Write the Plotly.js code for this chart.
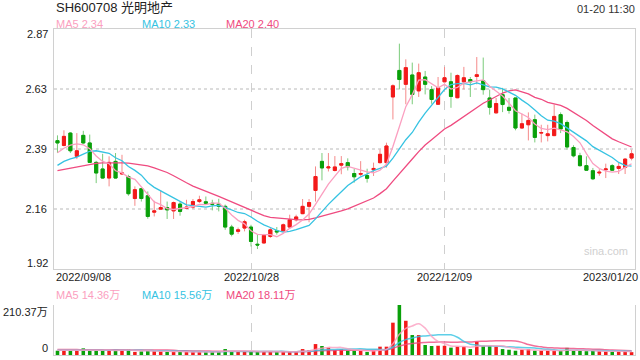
<!DOCTYPE html>
<html><head><meta charset="utf-8">
<script src="https://cdn.plot.ly/plotly-3.0.1.min.js"></script>
<style>html,body{margin:0;padding:0;background:#fff}#chart{width:640px;height:360px}</style>
</head><body><div id="chart"></div>
<script>
// ---- data ----
const dates = ["2022/09/08","2022/10/28","2022/12/09","2023/01/20"];
const dateIdx = [0, 30, 60, 89];
const opens  = [2.428,2.409,2.458,2.366,2.449,2.419,2.342,2.316,2.280,2.346,2.296,2.286,2.199,2.238,2.210,2.145,2.157,2.163,2.150,2.177,2.160,2.165,2.187,2.186,2.180,2.177,2.168,2.086,2.069,2.082,2.086,2.018,2.023,2.049,2.071,2.071,2.086,2.115,2.139,2.168,2.231,2.346,2.320,2.310,2.331,2.341,2.298,2.295,2.290,2.313,2.341,2.341,2.601,2.706,2.651,2.688,2.625,2.680,2.630,2.572,2.661,2.661,2.598,2.661,2.670,2.682,2.665,2.597,2.538,2.610,2.560,2.597,2.478,2.491,2.511,2.458,2.448,2.448,2.531,2.500,2.401,2.368,2.329,2.309,2.300,2.313,2.329,2.318,2.322,2.359];
const highs  = [2.449,2.469,2.462,2.458,2.467,2.452,2.348,2.376,2.366,2.379,2.372,2.293,2.247,2.240,2.227,2.190,2.231,2.187,2.187,2.187,2.194,2.197,2.210,2.207,2.194,2.198,2.175,2.095,2.084,2.115,2.095,2.056,2.059,2.086,2.086,2.100,2.135,2.135,2.197,2.197,2.326,2.379,2.379,2.367,2.367,2.358,2.317,2.347,2.317,2.341,2.393,2.420,2.651,2.812,2.750,2.737,2.733,2.704,2.644,2.680,2.720,2.697,2.690,2.720,2.680,2.759,2.757,2.630,2.597,2.637,2.597,2.597,2.535,2.540,2.531,2.491,2.491,2.571,2.540,2.508,2.410,2.380,2.366,2.320,2.315,2.337,2.335,2.342,2.359,2.392];
const lows   = [2.379,2.405,2.379,2.355,2.415,2.340,2.260,2.278,2.247,2.278,2.293,2.210,2.170,2.187,2.119,2.128,2.155,2.118,2.118,2.131,2.158,2.158,2.181,2.178,2.152,2.148,2.075,2.049,2.059,2.069,2.009,1.999,2.021,2.043,2.056,2.069,2.084,2.108,2.137,2.105,2.187,2.271,2.306,2.306,2.295,2.310,2.262,2.288,2.262,2.288,2.337,2.321,2.512,2.631,2.572,2.572,2.601,2.611,2.574,2.570,2.659,2.558,2.596,2.631,2.601,2.651,2.610,2.531,2.536,2.541,2.535,2.469,2.476,2.429,2.421,2.421,2.425,2.446,2.458,2.392,2.362,2.325,2.309,2.272,2.289,2.280,2.309,2.296,2.296,2.350];
const closes = [2.419,2.445,2.388,2.388,2.419,2.342,2.300,2.280,2.342,2.280,2.300,2.218,2.234,2.199,2.128,2.150,2.163,2.154,2.183,2.148,2.165,2.187,2.194,2.180,2.176,2.168,2.086,2.058,2.075,2.107,2.029,2.015,2.053,2.075,2.067,2.095,2.115,2.126,2.168,2.183,2.286,2.320,2.324,2.324,2.337,2.325,2.285,2.298,2.279,2.318,2.374,2.407,2.645,2.670,2.717,2.611,2.697,2.651,2.591,2.638,2.677,2.603,2.686,2.677,2.661,2.689,2.630,2.560,2.575,2.571,2.548,2.478,2.495,2.508,2.441,2.460,2.455,2.524,2.474,2.403,2.368,2.329,2.311,2.277,2.303,2.316,2.311,2.326,2.355,2.376];
// volume, unit 万
const volumes = [18,18,18,18,28,18,18,20,20,20,20,24,13,15,18,16,16,13,13,13,13,13,13,13,13,13,25,15,15,15,13,13,15,15,13,13,13,14,25,20,46,38,31,21,24,18,18,18,13,18,35,35,136,210.37,144,84,84,42,38,39,39,31,35,35,25,56,39,39,35,25,22,18,22,25,18,18,18,18,18,30,17,17,16,17,16,15,14,15,16,12];
// moving-average values before enough bars exist in the window
const ma5Head  = [2.380,2.398,2.410,2.415];
const ma10Head = [2.330,2.346,2.356,2.363,2.375,2.386,2.388,2.384,2.378];
const ma20Head = [2.309,2.314,2.320,2.325,2.330,2.334,2.338,2.340,2.341,2.341,2.340,2.339,2.336,2.333,2.328,2.320,2.312,2.302,2.289];
const vma5Head  = [20,20,20,20];
const vma10Head = [20,20,20,20,20,20,20,20,20];
const vma20Head = [23,23,23,23,22,22,22,22,22,22,22,22,21,21,21,21,21,21,20];
const maLabels  = ["MA5 2.34","MA10 2.33","MA20 2.40"];
const vmaLabels = ["MA5 14.36万","MA10 15.56万","MA20 18.11万"];
const priceTicks = [1.92, 2.1575, 2.395, 2.6325, 2.87];
const priceTickText = ["1.92","2.16","2.39","2.63","2.87"];
const volTop = 210.37;
const volTopText = "210.37万";
const titleText = "SH600708 光明地产";
const timeText = "01-20 11:30";

// ---- derived ----
const idx = closes.map((_, i) => i);
function movAvg(arr, n, head) {
  return arr.map((v, i) => {
    if (i < n - 1) return head[i];
    let s = 0; for (let k = i - n + 1; k <= i; k++) s += arr[k];
    return s / n;
  });
}
const ma5 = movAvg(closes, 5, ma5Head), ma10 = movAvg(closes, 10, ma10Head), ma20 = movAvg(closes, 20, ma20Head);
const vma5 = movAvg(volumes, 5, vma5Head), vma10 = movAvg(volumes, 10, vma10Head), vma20 = movAvg(volumes, 20, vma20Head);
const bodyHigh = opens.map((o, i) => Math.max(o, closes[i]));
const bodyLow  = opens.map((o, i) => Math.min(o, closes[i]));

const RED = '#f31a1a', GREEN = '#0aa00a';
const RED_W = '#f58a8a', GREEN_W = '#7acb7a';
const C5 = '#fb9fc0', C10 = '#36c3e2', C20 = '#ef4b80';
const FONT = 'Liberation Sans, Arial, Noto Sans CJK SC, sans-serif';
const volColors = opens.map((o, i) => closes[i] >= o ? RED : GREEN);

const traces = [
  {type:'candlestick', x:idx, open:opens, high:highs, low:lows, close:closes, xaxis:'x', yaxis:'y',
   increasing:{line:{color:RED_W,width:1}, fillcolor:RED_W}, decreasing:{line:{color:GREEN_W,width:1}, fillcolor:GREEN_W},
   whiskerwidth:0, hoverinfo:'skip', showlegend:false},
  {type:'candlestick', x:idx, open:opens, high:bodyHigh, low:bodyLow, close:closes, xaxis:'x', yaxis:'y',
   increasing:{line:{color:RED,width:1}, fillcolor:RED}, decreasing:{line:{color:GREEN,width:1}, fillcolor:GREEN},
   whiskerwidth:0, hoverinfo:'skip', showlegend:false},
  {type:'scatter', mode:'lines', x:idx, y:ma20, line:{color:C20,width:1.3}, xaxis:'x', yaxis:'y', showlegend:false},
  {type:'scatter', mode:'lines', x:idx, y:ma10, line:{color:C10,width:1.3}, xaxis:'x', yaxis:'y', showlegend:false},
  {type:'scatter', mode:'lines', x:idx, y:ma5, line:{color:C5,width:1.3}, xaxis:'x', yaxis:'y', showlegend:false},
  {type:'bar', x:idx, y:volumes, marker:{color:volColors}, width:0.55, xaxis:'x2', yaxis:'y2', showlegend:false},
  {type:'scatter', mode:'lines', x:idx, y:vma20, line:{color:C20,width:1.5,shape:'spline'}, opacity:0.8, xaxis:'x2', yaxis:'y2', showlegend:false},
  {type:'scatter', mode:'lines', x:idx, y:vma10, line:{color:C10,width:1.5,shape:'spline'}, opacity:0.8, xaxis:'x2', yaxis:'y2', showlegend:false},
  {type:'scatter', mode:'lines', x:idx, y:vma5, line:{color:C5,width:1.5,shape:'spline'}, opacity:0.8, xaxis:'x2', yaxis:'y2', showlegend:false}
];

const xr = [-0.54, 89.53];
const PX = 581, PH = 326; // plot area size in px (l=54, t=29)
const px2x = p => (p - 54) / PX;
const px2y = p => 1 - (p - 29) / PH;

const ann = [];
const txt = (text, x, y, xanchor, color, size, extra) => ann.push(Object.assign({text, x, y, xref:'paper', yref:'paper', xanchor, yanchor:'middle', showarrow:false, font:{family:FONT, size, color}}, extra||{}));
txt(titleText, px2x(54), px2y(8), 'left', '#222', 13);
txt(timeText, px2x(637), px2y(9), 'right', '#333', 11);
const legX = [54, 140, 224];
[C5, C10, C20].forEach((c, k) => {
  txt(maLabels[k], px2x(legX[k]), px2y(24), 'left', c, 11);
  txt(vmaLabels[k], px2x(legX[k]), px2y(295), 'left', c, 11);
});
// date labels
dates.forEach((d, k) => {
  const a = {text:d, y:px2y(277), yref:'paper', yanchor:'middle', showarrow:false, font:{family:FONT, size:11, color:'#222'}};
  if (k === 0) { a.xref = 'paper'; a.x = px2x(54); a.xanchor = 'left'; }
  else if (k === dates.length - 1) { a.xref = 'paper'; a.x = px2x(640); a.xanchor = 'right'; }
  else { a.xref = 'x'; a.x = dateIdx[k]; a.xanchor = 'center'; }
  ann.push(a);
});
// top/bottom price labels (drawn inside the frame like the original)
ann.push({text:priceTickText[4], xref:'paper', x:px2x(50), xanchor:'right', yref:'y', y:priceTicks[4], yshift:-5, yanchor:'middle', showarrow:false, font:{family:FONT,size:11,color:'#222'}});
ann.push({text:priceTickText[0], xref:'paper', x:px2x(50), xanchor:'right', yref:'y', y:priceTicks[0], yshift:6, yanchor:'middle', showarrow:false, font:{family:FONT,size:11,color:'#222'}});
ann.push({text:volTopText, xref:'paper', x:px2x(50), xanchor:'right', yref:'y2', y:volTop, yshift:-7, yanchor:'middle', showarrow:false, font:{family:FONT,size:11,color:'#222'}});
ann.push({text:'0', xref:'paper', x:px2x(50), xanchor:'right', yref:'y2', y:0, yshift:7, yanchor:'middle', showarrow:false, font:{family:FONT,size:11,color:'#222'}});
txt('sina.com', px2x(606), px2y(251), 'center', '#d0d0d0', 11);

const layout = {
  width:640, height:360, margin:{l:54, r:5, t:29, b:5, pad:0},
  paper_bgcolor:'#fff', plot_bgcolor:'#fff', showlegend:false,
  font:{family:FONT, size:11, color:'#222'},
  xaxis:{domain:[0,1], range:xr, anchor:'y', tickvals:dateIdx.slice(1,3), showticklabels:false, ticks:'',
         showgrid:true, gridcolor:'#cfcfcf', griddash:'dash', gridwidth:1, zeroline:false,
         showline:true, linecolor:'#d0d0d0', linewidth:1, mirror:true, rangeslider:{visible:false}, fixedrange:true},
  yaxis:{domain:[1-240/PH, 1], range:[priceTicks[0], priceTicks[4]], anchor:'x',
         tickvals:priceTicks.slice(1,4), ticktext:priceTickText.slice(1,4), ticks:'', ticklabelstandoff:4,
         showgrid:true, gridcolor:'#dcdcdc', griddash:'dot', gridwidth:1.5, zeroline:false,
         showline:true, linecolor:'#d0d0d0', linewidth:1, mirror:true, tickfont:{family:FONT,size:11,color:'#222'}},
  xaxis2:{domain:[0,1], range:xr, anchor:'y2', matches:'x', tickvals:dateIdx.slice(1,3), showticklabels:false, ticks:'',
         showgrid:true, gridcolor:'#cfcfcf', griddash:'dash', gridwidth:1, zeroline:false,
         showline:true, linecolor:'#d0d0d0', linewidth:1, mirror:false, rangeslider:{visible:false}},
  yaxis2:{domain:[0, 1-276/PH], range:[0, volTop], anchor:'x2', tickvals:[volTop*0.995], showticklabels:false, ticks:'',
         showgrid:true, gridcolor:'#d8d8d8', griddash:'dot', gridwidth:1.5, zeroline:false,
         showline:true, linecolor:'#d0d0d0', linewidth:1, mirror:true},
  boxgap:0.32,
  annotations:ann
};
Plotly.newPlot('chart', traces, layout, {staticPlot:true, displayModeBar:false});
</script></body></html>
